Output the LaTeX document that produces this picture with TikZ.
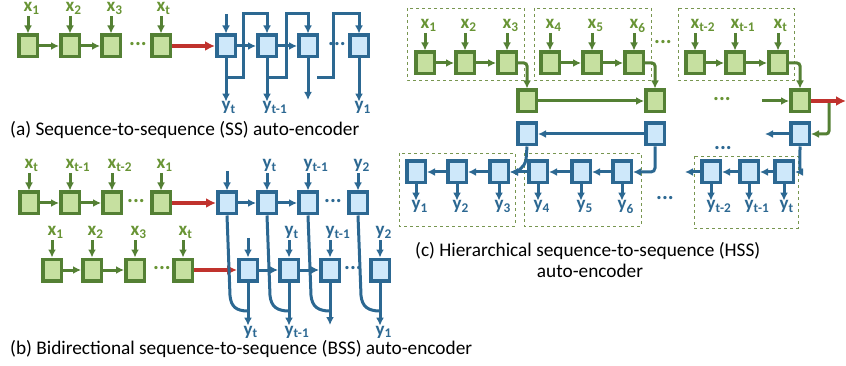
\documentclass[tikz,border=0pt]{standalone}
\usepackage{fontspec}
\setmainfont{Carlito}
\usepackage{xcolor}
\usetikzlibrary{arrows.meta,calc}
\tikzset{>={Latex[length=8pt,width=8pt]}}
\definecolor{gdark}{RGB}{84,128,52}
\definecolor{glight}{RGB}{198,224,160}
\definecolor{gtext}{RGB}{104,148,52}
\definecolor{gdash}{RGB}{120,150,80}
\definecolor{bdark}{RGB}{44,104,146}
\definecolor{blight}{RGB}{206,232,250}
\definecolor{rred}{RGB}{192,50,45}
\tikzset{
	gcell/.style={draw=gdark, fill=glight, line width=3.5pt, minimum width=18.5pt, minimum height=21.5pt, inner sep=0pt},
	bcell/.style={draw=bdark, fill=blight, line width=3.5pt, minimum width=18.5pt, minimum height=21.5pt, inner sep=0pt},
	glab/.style={text=gtext, font=\bfseries\fontsize{19}{19}\selectfont, inner sep=0pt},
	blab/.style={text=bdark, font=\bfseries\fontsize{19}{19}\selectfont, inner sep=0pt},
	gdots/.style={glab, font=\bfseries\fontsize{22}{22}\selectfont},
	bdots/.style={blab, font=\bfseries\fontsize{22}{22}\selectfont},
	gline/.style={draw=gdark, line width=3pt},
	bline/.style={draw=bdark, line width=3pt},
	rline/.style={draw=rred, line width=3.8pt, >={Latex[length=10pt,width=10pt]}},
	grp/.style={draw=gdash, dashed, line width=0.9pt},
	captext/.style={font=\fontsize{19.3}{22}\selectfont, inner sep=0pt}
}

\begin{document}
\begin{tikzpicture}[x=1pt, y=-1pt]
		\useasboundingbox (0,0) rectangle (846,366);
		\def\upcell#1#2#3#4{ % #1 g/b, #2 Name, #3 Centre, #4 Label
			\node[#1cell] (#2) at (#3) {};
			\node[#1lab, anchor=base west] (#2l) at ($(#2)+(-4.5,-34)$) {#4};
			\draw[#1line,->,shorten <=1pt] (#2l.south -| #2) -- (#2.north);
		}
		\def\downcell#1#2#3#4{ % #1 g/b, #2 Box, #3 Drop, #4 Label
			\node[#1lab, anchor=base west] (#2o) at ($(#2)+(-4.5,#3)$) {#4};
			\draw[#1line,->] (#2.south) -- (#2o.north -| #2);
		}
		% (a) sequence-to-sequence
		\upcell{g}{a1}{28,46}{x\textsubscript{1}}
		\upcell{g}{a2}{70,46}{x\textsubscript{2}}
		\upcell{g}{a3}{111,46}{x\textsubscript{3}}
		\upcell{g}{a4}{161,46}{x\textsubscript{t}}
		\node[gdots] (adots) at (138,44) {...};
		\draw[gline,->] (a1) -- (a2);
		\draw[gline,->] (a2) -- (a3);
		\node[bcell] (b1) at (226,46) {};
		\node[bcell] (b2) at (267,46) {};
		\node[bcell] (b3) at (308,46) {};
		\node[bcell] (b4) at (359,46) {};
		\node[bdots] (bdots) at (337,44) {...};
		\coordinate (bin) at (226,14);
		\coordinate (bgap) at (317,78);
		\coordinate (b3o) at (308,100);
		\draw[rline,->] (a4) -- (b1);
		\draw[bline,->] (bin) -- (b1);
		\draw[bline,->] (b1) -- (b2);
		\draw[bline,->] (b2) -- (b3);
		\draw[bline,->] (b1.south |- 0,78) -- (243,78) -- (243,14) -- (b2.north |- 0,14) -- (b2.north);
		\draw[bline,->] (b2.south |- 0,78) -- (286,78) -- (286,14) -- (b3.north |- 0,14) -- (b3.north);
		\draw[bline,->] (bgap) -- (333,78) -- (333,14) -- (b4.north |- 0,14) -- (b4.north);
		\downcell{b}{b1}{65}{y\textsubscript{t}}
		\downcell{b}{b2}{65}{y\textsubscript{t-1}}
		\draw[bline,->] (b3.south) -- (b3o);
		\downcell{b}{b4}{65}{y\textsubscript{1}}
		\node[captext, anchor=base west] (capa) at (10,136) {(a) Sequence-to-sequence (SS) auto-encoder};
		
		% (b) bidirectional
		\upcell{g}{c1}{29,203}{x\textsubscript{t}}
		\upcell{g}{c2}{70,203}{x\textsubscript{t-1}}
		\upcell{g}{c3}{112,203}{x\textsubscript{t-2}}
		\upcell{g}{c4}{161,203}{x\textsubscript{1}}
		\node[gdots] (cdots) at (136,201) {...};
		\draw[gline,->] (c1) -- (c2);
		\draw[gline,->] (c2) -- (c3);
		\node[bcell] (d1) at (227,203) {};
		\upcell{b}{d2}{267,203}{y\textsubscript{t}}
		\upcell{b}{d3}{308,203}{y\textsubscript{t-1}}
		\upcell{b}{d4}{358,203}{y\textsubscript{2}}
		\node[bdots] (ddots) at (333,201) {...};
		\coordinate (din) at (227,171);
		\draw[bline,->] (din) -- (d1);
		\draw[rline,->] (c4) -- (d1);
		\draw[bline,->] (d1) -- (d2);
		\draw[bline,->] (d2) -- (d3);
		\upcell{g}{e1}{52,270}{x\textsubscript{1}}
		\upcell{g}{e2}{92,270}{x\textsubscript{2}}
		\upcell{g}{e3}{135,270}{x\textsubscript{3}}
		\upcell{g}{e4}{183,270}{x\textsubscript{t}}
		\node[gdots] (edots) at (162,268) {...};
		\draw[gline,->] (e1) -- (e2);
		\draw[gline,->] (e2) -- (e3);
		\node[bcell] (f1) at (248,270) {};
		\upcell{b}{f2}{289,270}{y\textsubscript{t}}
		\upcell{b}{f3}{330,270}{y\textsubscript{t-1}}
		\upcell{b}{f4}{380,270}{y\textsubscript{2}}
		\node[bdots] (fdots) at (353,268) {...};
		\coordinate (fin) at (248,238);
		\coordinate (f3o) at (330,325);
		\draw[bline,->] (fin) -- (f1);
		\draw[rline,->] (e4) -- (f1);
		\draw[bline,->] (f1) -- (f2);
		\draw[bline,->] (f2) -- (f3);
		\draw[bline] (d1.south) -- ++(3,80) .. controls +(1,11) and +(-12,0) .. (f1 |- 0,311);
		\draw[bline] (d2.south) -- ++(3,80) .. controls +(1,11) and +(-12,0) .. (f2 |- 0,311);
		\draw[bline] (d3.south) -- ++(3,80) .. controls +(1,11) and +(-12,0) .. (f3 |- 0,311);
		\draw[bline] (d4.south) -- ++(3,80) .. controls +(1,11) and +(-12,0) .. (f4 |- 0,311);
		\downcell{b}{f1}{65}{y\textsubscript{t}}
		\downcell{b}{f2}{65}{y\textsubscript{t-1}}
		\draw[bline,->] (f3.south) -- (f3o);
		\downcell{b}{f4}{65}{y\textsubscript{1}}
		\node[captext, anchor=base west] (capb) at (10,354) {(b) Bidirectional sequence-to-sequence (BSS) auto-encoder};
		
		% (c) hierarchical
		\draw[grp] (407,8) rectangle (524,80);
		\draw[grp] (534,8) rectangle (651,80);
		\draw[grp] (678,8) rectangle (794,80);
		\draw[grp] (399,153) rectangle (515,226);
		\draw[grp] (524,153) rectangle (641,226);
		\draw[grp] (694,156) rectangle (798,228);
		\upcell{g}{h1}{425,63}{x\textsubscript{1}}
		\upcell{g}{h2}{465,63}{x\textsubscript{2}}
		\upcell{g}{h3}{507,63}{x\textsubscript{3}}
		\upcell{g}{h4}{550,63}{x\textsubscript{4}}
		\upcell{g}{h5}{592,63}{x\textsubscript{5}}
		\upcell{g}{h6}{634,63}{x\textsubscript{6}}
		\upcell{g}{h7}{695,63}{x\textsubscript{t-2}}
		\upcell{g}{h8}{735,63}{x\textsubscript{t-1}}
		\upcell{g}{h9}{778,63}{x\textsubscript{t}}
		\node[gdots] (hdots) at (663,42) {...};
		\draw[gline,->] (h1) -- (h2);
		\draw[gline,->] (h2) -- (h3);
		\draw[gline,->] (h4) -- (h5);
		\draw[gline,->] (h5) -- (h6);
		\draw[gline,->] (h7) -- (h8);
		\draw[gline,->] (h8) -- (h9);
		\node[gcell] (m1) at (527,101) {};
		\node[gcell] (m2) at (655,101) {};
		\node[gcell] (m3) at (800,101) {};
		\node[gdots] (mdots) at (722,99) {...};
		\draw[gline,->,rounded corners=3pt] (h3.east) -| (m1.north);
		\draw[gline,->,rounded corners=3pt] (h6.east) -| (m2.north);
		\draw[gline,->,rounded corners=3pt] (h9.east) -| (m3.north);
		\draw[gline,->] (m1) -- (m2);
		\coordinate (min) at (762,101);
		\coordinate (cout) at (846,101);
		\coordinate (csplit) at (829,101);
		\draw[gline,->] (min) -- (m3);
		\node[bcell] (n1) at (527,134) {};
		\node[bcell] (n2) at (655,134) {};
		\node[bcell] (n3) at (800,134) {};
		\node[bdots] (ndots) at (723,148) {...};
		\coordinate (nout) at (765,134);
		\draw[gline,->,rounded corners=3pt] (csplit) |- (n3.east);
		\draw[rline,->] (m3) -- (cout);
		\draw[bline,->] (n2) -- (n1);
		\draw[bline,->] (n3) -- (nout);
		\node[bcell] (p1) at (416,172) {};
		\node[bcell] (p2) at (457,172) {};
		\node[bcell] (p3) at (499,172) {};
		\node[bcell] (p4) at (538,172) {};
		\node[bcell] (p5) at (581,172) {};
		\node[bcell] (p6) at (622,172) {};
		\node[bcell] (p7) at (711,172) {};
		\node[bcell] (p8) at (749,172) {};
		\node[bcell] (p9) at (784,172) {};
		\node[bdots] (pdots) at (665,198) {...};
		\coordinate (pout) at (685,172);
		\draw[bline,->] (p2) -- (p1);
		\draw[bline,->] (p3) -- (p2);
		\draw[bline,->] (p4) -- (p3);
		\draw[bline,->] (p5) -- (p4);
		\draw[bline,->] (p6) -- (p5);
		\draw[bline,->] (p8) -- (p7);
		\draw[bline,->] (p9) -- (p8);
		\draw[bline,->] (p7) -- (pout);
		\draw[bline,->] (n1.south) -- ++(-1,14) .. controls +(-1,6) and +(6,0) .. (p3.east);
		\draw[bline,->,rounded corners=4pt] (n2.south) |- (p6.east);
		\draw[bline,->] (n3.south) .. controls +(0,20) and +(4,0) .. (p9.east);
		\downcell{b}{p1}{38}{y\textsubscript{1}}
		\downcell{b}{p2}{38}{y\textsubscript{2}}
		\downcell{b}{p3}{38}{y\textsubscript{3}}
		\downcell{b}{p4}{38}{y\textsubscript{4}}
		\downcell{b}{p5}{38}{y\textsubscript{5}}
		\downcell{b}{p6}{38}{y\textsubscript{6}}
		\downcell{b}{p7}{38}{y\textsubscript{t-2}}
		\downcell{b}{p8}{38}{y\textsubscript{t-1}}
		\downcell{b}{p9}{38}{y\textsubscript{t}}
		\node[captext, anchor=base west] (capc) at (415,257) {(c) Hierarchical sequence-to-sequence (HSS)};
		\node[captext, anchor=base] (capc2) at (590,277) {auto-encoder};
	\end{tikzpicture}
\end{document}
